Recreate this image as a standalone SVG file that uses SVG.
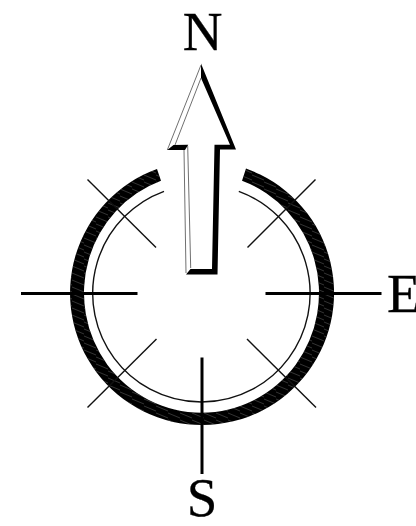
<svg xmlns="http://www.w3.org/2000/svg" width="416" height="526" viewBox="0 0 416 526">
<style>
text{font-family:"Liberation Serif","Times New Roman",serif;font-size:55px;fill:#000;stroke:#000;stroke-width:0.3}
.thin{fill:none;stroke:#111;stroke-width:1.4}
.thick{fill:none;stroke:#000;stroke-width:3}
.grey{fill:none;stroke:#707070;stroke-width:1}
</style>
<defs>
<pattern id="hatch" patternUnits="userSpaceOnUse" width="12" height="7">
<path d="M0 0L12 5M0 7L12 12M0 -7L12 -2" fill="none" stroke="#666" stroke-width="0.5"/>
</pattern>
</defs>
<rect width="416" height="526" fill="#fff"/>
<g id="ring">
<path id="ring-band" d="M157 169A132 132 0 1 0 246 168.600L242 180.700A117.500 119.700 0 1 1 161 180.700Z" fill="#000"/>
<path d="M157 169A132 132 0 1 0 246 168.600L242 180.700A117.500 119.700 0 1 1 161 180.700Z" fill="url(#hatch)"/>
<path class="thin" d="M164 191.300A108.700 108.700 0 1 0 238.800 191.300"/>
</g>
<g id="connectors">
<line class="thick" x1="21" y1="293.500" x2="137.500" y2="293.500"/>
<line class="thick" x1="265.500" y1="293.500" x2="381.500" y2="293.500"/>
<line class="thick" x1="202" y1="357.500" x2="202" y2="474"/>
<line class="thin" x1="87.500" y1="179.500" x2="156" y2="247.500"/>
<line class="thin" x1="315.500" y1="179.500" x2="247.500" y2="247.500"/>
<line class="thin" x1="87.500" y1="407.500" x2="156.500" y2="339"/>
<line class="thin" x1="316" y1="407.500" x2="247" y2="339"/>
</g>
<g id="arrow">
<path d="M201 64L236 149.500L220 149.500L217.500 274.500L186 274.500L184 150L167 150Z" fill="#fff"/>
<path d="M201 63.500L236 149.500L220 149.500L217.500 274.500L186 274.500L190.500 269L212 269L214.500 144.700L230 144.700L201 78Z" fill="#000"/>
<path d="M167.300 150L173.500 145L188.300 144.700L185 150Z" fill="#000"/>
<path class="grey" d="M201 65L167.300 150M201 78L175 145M184 150L186 273M187.700 146L190.700 268"/>
</g>
<g id="label-n"><text x="202.500" y="50" text-anchor="middle">N</text></g>
<g id="label-e"><text x="387" y="312">E</text></g>
<g id="label-s"><text x="202" y="516" text-anchor="middle">S</text></g>
</svg>
